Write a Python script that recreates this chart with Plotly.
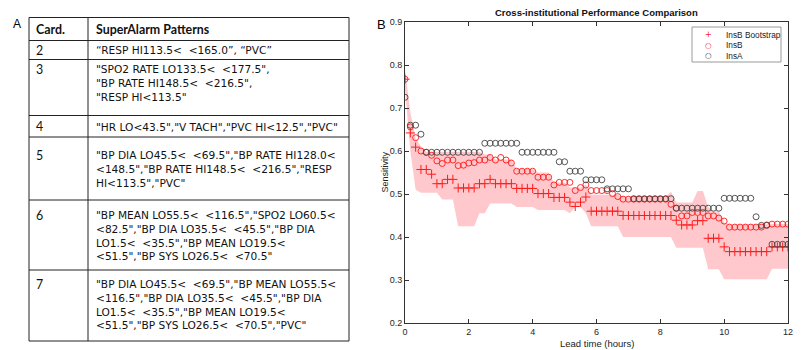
import plotly.graph_objects as go

# ---------------- data ----------------
lead_minutes = list(range(0, 721, 10))
lead_time = [m / 60 for m in lead_minutes]

insb_bootstrap = [0.767, 0.642, 0.609, 0.557, 0.557, 0.546, 0.524, 0.524, 0.534, 0.534,
                  0.514, 0.514, 0.514, 0.514, 0.524, 0.524, 0.534, 0.524, 0.524, 0.524,
                  0.524, 0.513, 0.513, 0.513, 0.513, 0.501, 0.501, 0.501, 0.492, 0.492,
                  0.492, 0.481, 0.471, 0.481, 0.493, 0.460, 0.460, 0.460, 0.460, 0.460,
                  0.460, 0.450, 0.450, 0.450, 0.450, 0.450, 0.450, 0.450, 0.450, 0.450,
                  0.450, 0.439, 0.428, 0.428, 0.428, 0.438, 0.438, 0.397, 0.397, 0.397,
                  0.377, 0.366, 0.366, 0.366, 0.366, 0.366, 0.366, 0.366, 0.366, 0.377,
                  0.377, 0.377, 0.377]

insb = [0.767, 0.656, 0.631, 0.600, 0.597, 0.590, 0.577, 0.571, 0.579, 0.579,
        0.566, 0.567, 0.572, 0.573, 0.579, 0.579, 0.585, 0.579, 0.585, 0.579,
        0.572, 0.553, 0.553, 0.553, 0.553, 0.539, 0.539, 0.539, 0.521, 0.527,
        0.527, 0.527, 0.508, 0.515, 0.521, 0.508, 0.508, 0.508, 0.508, 0.501,
        0.494, 0.488, 0.488, 0.488, 0.488, 0.488, 0.488, 0.488, 0.488, 0.488,
        0.476, 0.467, 0.449, 0.449, 0.457, 0.457, 0.457, 0.449, 0.449, 0.444,
        0.437, 0.423, 0.423, 0.423, 0.423, 0.423, 0.423, 0.423, 0.428, 0.430,
        0.430, 0.430, 0.430]

insa = [0.725, 0.660, 0.660, 0.639, 0.597, 0.597, 0.597, 0.597, 0.597, 0.597,
        0.597, 0.597, 0.597, 0.597, 0.597, 0.618, 0.618, 0.618, 0.618, 0.618,
        0.618, 0.618, 0.597, 0.597, 0.597, 0.597, 0.597, 0.597, 0.597, 0.575,
        0.575, 0.553, 0.553, 0.553, 0.533, 0.533, 0.533, 0.533, 0.512, 0.512,
        0.512, 0.512, 0.512, 0.489, 0.489, 0.489, 0.489, 0.489, 0.489, 0.489,
        0.489, 0.467, 0.467, 0.467, 0.467, 0.467, 0.467, 0.467, 0.467, 0.467,
        0.490, 0.490, 0.490, 0.490, 0.490, 0.490, 0.447, 0.427, 0.427, 0.383,
        0.383, 0.383, 0.383]

band_upper = [0.790, 0.690, 0.630, 0.610, 0.598, 0.598, 0.598, 0.598, 0.598, 0.598,
              0.598, 0.598, 0.598, 0.598, 0.598, 0.592, 0.592, 0.580, 0.580, 0.580,
              0.580, 0.558, 0.558, 0.558, 0.558, 0.550, 0.550, 0.550, 0.527, 0.527,
              0.527, 0.515, 0.515, 0.515, 0.522, 0.498, 0.498, 0.498, 0.498, 0.498,
              0.498, 0.494, 0.494, 0.494, 0.494, 0.494, 0.494, 0.494, 0.494, 0.494,
              0.505, 0.480, 0.480, 0.480, 0.480, 0.507, 0.507, 0.470, 0.460, 0.460,
              0.434, 0.429, 0.429, 0.429, 0.429, 0.429, 0.429, 0.429, 0.429, 0.430,
              0.430, 0.430, 0.430]

band_lower = [0.745, 0.600, 0.510, 0.503, 0.503, 0.503, 0.503, 0.487, 0.487, 0.487,
              0.425, 0.425, 0.425, 0.425, 0.455, 0.455, 0.478, 0.478, 0.478, 0.478,
              0.478, 0.470, 0.470, 0.470, 0.470, 0.463, 0.463, 0.463, 0.463, 0.463,
              0.463, 0.455, 0.470, 0.470, 0.455, 0.425, 0.425, 0.425, 0.425, 0.425,
              0.425, 0.400, 0.400, 0.400, 0.400, 0.400, 0.400, 0.400, 0.400, 0.400,
              0.400, 0.375, 0.375, 0.375, 0.375, 0.375, 0.375, 0.325, 0.325, 0.325,
              0.302, 0.302, 0.302, 0.302, 0.302, 0.302, 0.302, 0.302, 0.302, 0.326,
              0.326, 0.326, 0.326]

x_ticks = [0, 2, 4, 6, 8, 10, 12]
y_ticks = [0.2, 0.3, 0.4, 0.5, 0.6, 0.7, 0.8, 0.9]

series_names = ["InsB Bootstrap", "InsB", "InsA"]
chart_title = "Cross-institutional Performance Comparison"
x_title = "Lead time (hours)"
y_title = "Sensitivity"

table_header = ["Card.", "SuperAlarm Patterns"]
card_numbers = ["2", "3", "4", "5", "6", "7"]
pattern_lines = [
    ['\u201cRESP HI113.5<  <165.0\u201d, \u201cPVC\u201d'],
    ['"SPO2 RATE LO133.5<  <177.5",', '"BP RATE HI148.5<  <216.5",', '"RESP HI<113.5"'],
    ['"HR LO<43.5","V TACH","PVC HI<12.5","PVC"'],
    ['"BP DIA LO45.5<  <69.5","BP RATE HI128.0<',
     '<148.5","BP RATE HI148.5<  <216.5","RESP',
     'HI<113.5","PVC"'],
    ['"BP MEAN LO55.5<  <116.5","SPO2 LO60.5<',
     '<82.5","BP DIA LO35.5<  <45.5","BP DIA',
     'LO1.5<  <35.5","BP MEAN LO19.5<',
     '<51.5","BP SYS LO26.5<  <70.5"'],
    ['"BP DIA LO45.5<  <69.5","BP MEAN LO55.5<',
     '<116.5","BP DIA LO35.5<  <45.5","BP DIA',
     'LO1.5<  <35.5","BP MEAN LO19.5<',
     '<51.5","BP SYS LO26.5<  <70.5","PVC"'],
]

# ---------------- layout helpers (screen pixel -> paper) ----------------
PAGE_OFF = 8                      # page body margin in the browser
W, H = 801 - PAGE_OFF, 350 - PAGE_OFF
L, R, T, B = 405, 788, 22, 323    # plot area in screen pixels


def px(x):
    return (x - L) / (R - L)


def py(y):
    return (B - y) / (B - T)


def esc(s):
    return s.replace("<", "&lt;").replace("  ", " &nbsp;")


RED = "#ff1a1a"
GRAY = "#444444"
PINK = "rgb(255,200,204)"
AX = "#333333"
CHART_FONT = "Liberation Sans, Arial, sans-serif"
HEAD_FONT = "Lato, sans-serif"
BODY_FONT = "DejaVu Sans, sans-serif"
BODY_SIZE = 10.6
LINE_STEP = 1.3 * BODY_SIZE

fig = go.Figure()

fig.add_trace(go.Scatter(x=lead_time, y=band_lower, mode="lines", line=dict(width=0),
                         hoverinfo="skip", showlegend=False))
fig.add_trace(go.Scatter(x=lead_time, y=band_upper, mode="lines", line=dict(width=0),
                         fill="tonexty", fillcolor=PINK, hoverinfo="skip", showlegend=False))
fig.add_trace(go.Scatter(x=lead_time, y=insb_bootstrap, mode="markers", name=series_names[0],
                         marker=dict(symbol="cross-thin-open", size=6.5, color=RED,
                                     line=dict(color=RED, width=1)),
                         showlegend=False))
fig.add_trace(go.Scatter(x=lead_time, y=insb, mode="markers", name=series_names[1],
                         marker=dict(symbol="circle-open", size=6, color=RED,
                                     line=dict(color=RED, width=0.9)),
                         showlegend=False))
fig.add_trace(go.Scatter(x=lead_time, y=insa, mode="markers", name=series_names[2],
                         marker=dict(symbol="circle-open", size=6, color=GRAY,
                                     line=dict(color=GRAY, width=0.9)),
                         showlegend=False))

shapes = []
annotations = []

# ---- chart texts ----
annotations.append(dict(xref="paper", yref="paper", x=0.5, y=py(12.5), text="<b>" + chart_title + "</b>",
                        showarrow=False, xanchor="center", yanchor="middle",
                        font=dict(family=CHART_FONT, size=9.5, color="#111")))
annotations.append(dict(xref="paper", yref="paper", x=0.5, y=py(344), text=x_title,
                        showarrow=False, xanchor="center", yanchor="middle",
                        font=dict(family=CHART_FONT, size=9.5, color="#222")))
annotations.append(dict(xref="paper", yref="paper", x=px(384), y=0.5, text=y_title, textangle=-90,
                        showarrow=False, xanchor="center", yanchor="middle",
                        font=dict(family=CHART_FONT, size=9, color="#222")))
annotations.append(dict(xref="paper", yref="paper", x=px(381.5), y=py(25), text="B",
                        showarrow=False, xanchor="center", yanchor="middle",
                        font=dict(family=CHART_FONT, size=13, color="#000")))
annotations.append(dict(xref="paper", yref="paper", x=px(16.5), y=py(24), text="A",
                        showarrow=False, xanchor="center", yanchor="middle",
                        font=dict(family=CHART_FONT, size=12, color="#000")))

# ---- manual legend ----
shapes.append(dict(type="rect", xref="paper", yref="paper", x0=px(692), x1=px(781),
                   y0=py(62), y1=py(27), line=dict(color="#9a9a9a", width=1),
                   fillcolor="white", layer="above"))
legend_glyphs = ["+", "\u25cb", "\u25cb"]
legend_colors = [RED, RED, GRAY]
legend_rows_y = [34.8, 45.2, 55.6]
for name, glyph, col, yy in zip(series_names, legend_glyphs, legend_colors, legend_rows_y):
    annotations.append(dict(xref="paper", yref="paper", x=px(708), y=py(yy), text=glyph,
                            showarrow=False, xanchor="center", yanchor="middle",
                            font=dict(family="DejaVu Sans", size=8 if glyph == "+" else 7.5, color=col)))
    annotations.append(dict(xref="paper", yref="paper", x=px(723.5), y=py(yy), text=name,
                            showarrow=False, xanchor="left", yanchor="middle",
                            font=dict(family=CHART_FONT, size=8.3, color="#222")))

# ---- table (panel A) ----
col_x = [29, 88, 349]
row_y = [17.5, 40.5, 59.5, 115.5, 137, 200, 270, 341]
for x in col_x:
    shapes.append(dict(type="line", xref="paper", yref="paper", x0=px(x), x1=px(x),
                       y0=py(row_y[0]), y1=py(row_y[-1]), line=dict(color="#222", width=1)))
for y in row_y:
    shapes.append(dict(type="line", xref="paper", yref="paper", x0=px(col_x[0]), x1=px(col_x[-1]),
                       y0=py(y), y1=py(y), line=dict(color="#222", width=1)))

text_x = [34, 94]
first_line_y = [29.5, 50, 69, 126.5, 155, 215, 284]

for j, h in enumerate(table_header):
    annotations.append(dict(xref="paper", yref="paper", x=px(text_x[j]), y=py(first_line_y[0]),
                            text="<b>" + esc(h) + "</b>", showarrow=False,
                            xanchor="left", yanchor="middle",
                            font=dict(family=HEAD_FONT, size=12.4, color="#111")))
for i, (card, lines) in enumerate(zip(card_numbers, pattern_lines)):
    y0 = first_line_y[i + 1]
    annotations.append(dict(xref="paper", yref="paper", x=px(text_x[0]), y=py(y0),
                            text=card, showarrow=False, xanchor="left", yanchor="middle",
                            font=dict(family=HEAD_FONT, size=12.4, color="#111")))
    block_center = y0 + (len(lines) - 1) * LINE_STEP / 2
    annotations.append(dict(xref="paper", yref="paper", x=px(text_x[1]), y=py(block_center),
                            text="<br>".join(esc(ln) for ln in lines), showarrow=False,
                            xanchor="left", yanchor="middle", align="left",
                            font=dict(family=BODY_FONT, size=BODY_SIZE, color="#111")))

axis_common = dict(showline=True, mirror="ticks", linecolor=AX, linewidth=1,
                   ticks="inside", ticklen=4, tickcolor=AX, showgrid=False, zeroline=False,
                   tickfont=dict(family=CHART_FONT, size=9, color="#262626"), automargin=False)

fig.update_layout(
    width=W, height=H,
    margin=dict(l=L - PAGE_OFF, r=801 - R, t=T - PAGE_OFF, b=350 - B, autoexpand=False),
    paper_bgcolor="white", plot_bgcolor="white",
    showlegend=False,
    xaxis=dict(range=[0, 12], tickvals=x_ticks, **axis_common),
    yaxis=dict(range=[0.2, 0.9], tickvals=y_ticks, tickformat=".1f", **axis_common),
    shapes=shapes,
    annotations=annotations,
)

fig.write_html("out.html")
